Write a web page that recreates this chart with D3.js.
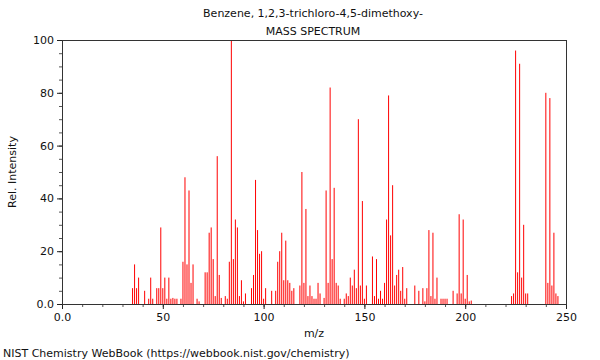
<!DOCTYPE html>
<html>
<head>
<meta charset="utf-8">
<script src="https://cdn.jsdelivr.net/npm/d3@7"></script>
<style>
  html, body { margin: 0; padding: 0; background: #fff; }
  svg text { font-family: "DejaVu Sans", sans-serif; fill: #111; }
</style>
</head>
<body>
<div id="chart"></div>
<script>
// Mass spectrum: Benzene, 1,2,3-trichloro-4,5-dimethoxy-
const mz = [35, 36, 37, 38, 41, 43, 44, 45, 47, 48, 49, 50, 51, 52, 53, 54, 55, 56, 57, 59,
  60, 61, 62, 63, 64, 65, 67, 68, 71, 72, 73, 74, 75, 76, 77, 78, 79, 81, 82, 83, 84, 85, 86, 87,
  88, 89, 90, 91, 94, 95, 96, 97, 98, 99, 100, 101, 104, 106, 107, 108, 109, 110, 111, 112, 113, 114, 115,
  118, 119, 120, 121, 122, 123, 124, 125, 126, 127, 128, 130, 131, 132, 133, 134, 135, 136, 137, 138,
  140, 141, 142, 143, 144, 145, 146, 147, 148, 149, 150, 151, 154, 155, 156, 157, 158, 159,
  160, 161, 162, 163, 164, 165, 166, 167, 168, 169, 170, 171, 175, 177, 179, 180, 181, 182, 183, 184,
  185, 186, 188, 189, 190, 191, 194, 196, 197, 198, 199, 200, 201, 202, 203,
  223, 224, 225, 226, 227, 228, 229, 230, 231, 240, 241, 242, 243, 244, 245, 246];
const intensity = [6, 15, 6, 10, 5, 2, 10, 2, 6, 6, 29, 6, 10, 2, 10, 2, 2.3, 2, 2, 2,
  16, 48, 15, 43, 8, 15, 2, 1, 12, 12, 27, 29, 17, 3, 56, 11, 2.3, 3, 2, 16, 100, 17, 32, 29,
  3, 9, 1, 4, 6, 11, 47, 28, 19, 20, 2, 6, 5, 5, 16, 20, 27, 9, 24, 9, 8, 5, 6,
  7, 50, 8, 36, 3, 7, 3, 2, 2, 8, 4, 2.3, 43, 8, 82, 17, 44, 8, 7, 2,
  2, 4, 3, 10, 7, 13, 6, 70, 7, 39, 2, 7, 18, 3, 17, 2, 5, 2,
  8, 32, 79, 26, 45, 7, 11, 13, 5, 14, 2, 6, 7, 5, 6, 1, 6, 28, 3, 27,
  2, 10, 2, 2, 2, 2, 5, 4, 34, 4, 32, 2, 11, 1, 1.3,
  3, 4, 96, 12, 91, 10, 30, 4, 4, 80, 8, 78, 7, 27, 4, 3];

const xTicks = [0, 50, 100, 150, 200, 250];
const xMinor = d3.range(0, 251, 10);
const yTicks = [0, 20, 40, 60, 80, 100];
const yMinor = d3.range(0, 101, 5);
const titleLines = ['Benzene, 1,2,3-trichloro-4,5-dimethoxy-', 'MASS SPECTRUM'];

const width = 600, height = 360;
const margin = { top: 40, right: 34, bottom: 56, left: 62 };

const svg = d3.select('#chart').append('svg')
  .attr('width', width)
  .attr('height', height);

const x = d3.scaleLinear().domain([0, 250]).range([margin.left, width - margin.right]);
const y = d3.scaleLinear().domain([0, 100]).range([height - margin.bottom, margin.top]);
const fmt = d => d === 0 ? '0.0' : d3.format('d')(d);

// minor ticks
svg.append('g')
  .attr('transform', `translate(0,${y(0)})`)
  .call(d3.axisBottom(x).tickValues(xMinor).tickSize(3).tickFormat(''))
  .call(g => g.select('.domain').remove())
  .selectAll('line').attr('stroke', '#555');
svg.append('g')
  .attr('transform', `translate(${x(0)},0)`)
  .call(d3.axisLeft(y).tickValues(yMinor).tickSize(3).tickFormat(''))
  .call(g => g.select('.domain').remove())
  .selectAll('line').attr('stroke', '#555');

// major ticks with labels
const xAxis = svg.append('g')
  .attr('transform', `translate(0,${y(0)})`)
  .call(d3.axisBottom(x).tickValues(xTicks).tickSize(5).tickPadding(4).tickFormat(fmt));
xAxis.select('.domain').remove();
xAxis.selectAll('line').attr('stroke', '#222');
xAxis.selectAll('text').attr('font-size', 11).attr('font-family', 'DejaVu Sans').attr('fill', '#111');

const yAxis = svg.append('g')
  .attr('transform', `translate(${x(0)},0)`)
  .call(d3.axisLeft(y).tickValues(yTicks).tickSize(5).tickPadding(3).tickFormat(fmt));
yAxis.select('.domain').remove();
yAxis.selectAll('line').attr('stroke', '#222');
yAxis.selectAll('text').attr('font-size', 11).attr('font-family', 'DejaVu Sans').attr('fill', '#111');

// spectrum lines
svg.append('g')
  .selectAll('line')
  .data(mz)
  .join('line')
  .attr('x1', d => x(d))
  .attr('x2', d => x(d))
  .attr('y1', y(0))
  .attr('y2', (d, i) => y(intensity[i]))
  .attr('stroke', '#ff0000')
  .attr('stroke-width', 1);

// frame
svg.append('rect')
  .attr('x', x(0) + 0.5)
  .attr('y', y(100) + 0.5)
  .attr('width', x(250) - x(0))
  .attr('height', y(0) - y(100))
  .attr('fill', 'none')
  .attr('stroke', '#333')
  .attr('stroke-width', 1);

// titles
svg.selectAll('.title')
  .data(titleLines)
  .join('text')
  .attr('class', 'title')
  .attr('x', 313)
  .attr('y', (d, i) => 17 + i * 18)
  .attr('text-anchor', 'middle')
  .attr('font-size', 11)
  .text(d => d);

svg.append('text')
  .attr('x', (x(0) + x(250)) / 2)
  .attr('y', 337)
  .attr('text-anchor', 'middle')
  .attr('font-size', 11)
  .text('m/z');

svg.append('text')
  .attr('transform', `translate(16,${(y(0) + y(100)) / 2}) rotate(-90)`)
  .attr('text-anchor', 'middle')
  .attr('font-size', 11)
  .text('Rel. Intensity');

svg.append('text')
  .attr('x', 3)
  .attr('y', 357)
  .attr('font-size', 11)
  .text('NIST Chemistry WebBook (https://webbook.nist.gov/chemistry)');
</script>
</body>
</html>
